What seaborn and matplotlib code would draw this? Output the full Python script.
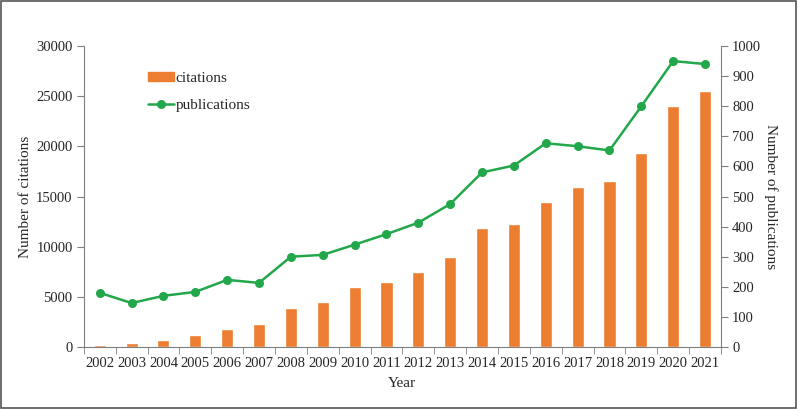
import numpy as np
import pandas as pd
import seaborn as sns
import matplotlib.pyplot as plt
from matplotlib.patches import Rectangle
from matplotlib.lines import Line2D
from matplotlib.patches import Patch

years = [str(y) for y in range(2002, 2022)]
citations = [200, 400, 700, 1200, 1800, 2300, 3900, 4500, 6000, 6500,
             7500, 9000, 11850, 12300, 14500, 15900, 16500, 19300, 24000, 25500]
publications = [180, 146, 170, 183, 223, 213, 300, 306, 340, 375,
                413, 475, 580, 603, 677, 667, 653, 800, 950, 940]

bar_color = "#ED7D31"
line_color = "#22A84A"

sns.set_style("white")
plt.rcParams["font.family"] = ["Liberation Serif", "DejaVu Serif"]

df = pd.DataFrame({"year": years, "citations": citations,
                   "publications": publications, "pos": np.arange(len(years))})

fig = plt.figure(figsize=(7.98, 4.09), dpi=100)
ax = fig.add_axes([0.105, 0.1516, 0.7985, 0.7359])

sns.barplot(data=df, x="year", y="citations", color=bar_color, width=0.38,
            saturation=1, ax=ax)
ax.set_ylim(0, 30000)
ax.set_yticks(np.arange(0, 30001, 5000))
ax.set_xlim(-0.5, len(years) - 0.5)

ax2 = ax.twinx()
sns.lineplot(data=df, x="pos", y="publications", color=line_color, marker="o",
             markersize=6.5, markeredgewidth=0, linewidth=1.8, ax=ax2)
ax2.set_ylim(0, 1000)
ax2.set_yticks(np.arange(0, 1001, 100))
ax2.set_xlim(-0.5, len(years) - 0.5)

spine_col = "#7f7f7f"
for a in (ax, ax2):
    a.spines["top"].set_visible(False)
    for s in ("left", "right", "bottom"):
        a.spines[s].set_color(spine_col)
ax.spines["right"].set_visible(False)
ax2.spines["left"].set_visible(False)
ax2.spines["bottom"].set_visible(False)

tick_fs = 10.5
ax.tick_params(axis="y", direction="out", length=5, color=spine_col, left=True,
               labelsize=tick_fs, pad=3)
ax2.tick_params(axis="y", direction="out", length=5, color=spine_col, right=True,
                labelsize=tick_fs, pad=3)
ax.set_xticks(np.arange(len(years)))
ax.set_xticklabels(years)
ax.tick_params(axis="x", length=0, labelsize=tick_fs, pad=7)
ax.set_xticks(np.arange(-0.5, len(years)), minor=True)
ax.tick_params(axis="x", which="minor", direction="out", length=5,
               color=spine_col, bottom=True)

ax.set_xlabel("Year", fontsize=11, labelpad=5)
ax.set_ylabel("Number of citations", fontsize=11, labelpad=3)
ax2.set_ylabel("Number of publications", fontsize=11, rotation=270, labelpad=12)

handles = [Patch(color=bar_color),
           Line2D([0], [0], color=line_color, marker="o", markersize=6.5,
                  markeredgewidth=0, linewidth=1.8)]
leg = ax2.legend(handles, ["citations", "publications"], loc="upper left",
                 bbox_to_anchor=(0.0905, 0.935), frameon=False, fontsize=11,
                 handlelength=1.75, handleheight=0.55, handletextpad=0.1,
                 labelspacing=0.95, borderaxespad=0)

fig.add_artist(Rectangle((0.001, 0.002), 0.997, 0.995, transform=fig.transFigure,
                         fill=False, edgecolor="#555555", linewidth=1.2))

fig.savefig("out.png", dpi=100)
